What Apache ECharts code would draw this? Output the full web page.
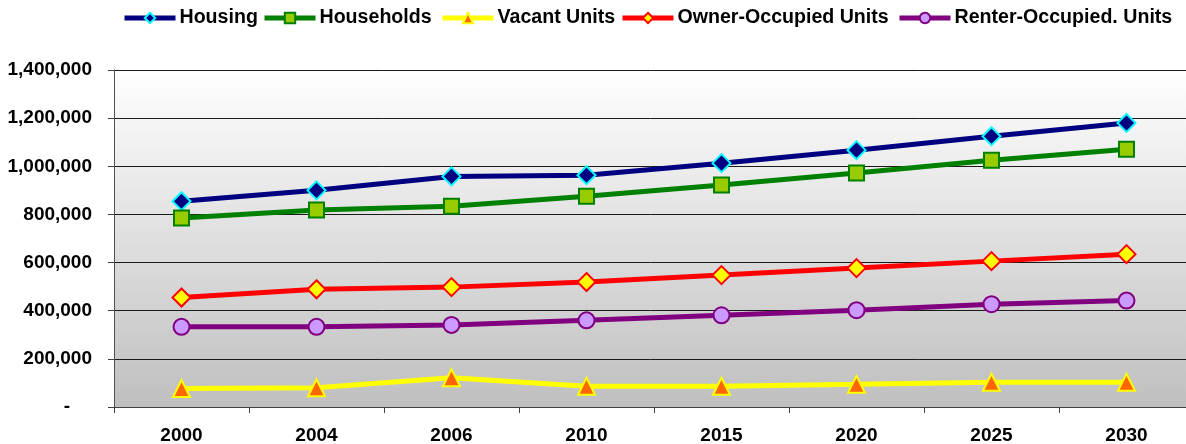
<!DOCTYPE html>
<html>
<head>
<meta charset="utf-8">
<script src="https://cdn.jsdelivr.net/npm/echarts@6/dist/echarts.min.js"></script>
<style>
  html, body { margin: 0; padding: 0; background: #ffffff; }
  #chart { width: 1186px; height: 444px; }
</style>
</head>
<body>
<div id="chart"></div>
<script>
// Housing projections by year
const years = ['2000', '2004', '2006', '2010', '2015', '2020', '2025', '2030'];
const housing = [855000, 900000, 958000, 963000, 1013000, 1067000, 1125000, 1180000];
const households = [785000, 818000, 834000, 876000, 922000, 972000, 1025000, 1071000];
const vacantUnits = [77000, 80000, 122000, 86000, 86000, 94000, 103000, 103000];
const ownerOccupied = [455000, 489000, 498000, 519000, 548000, 577000, 606000, 635000];
const renterOccupied = [333000, 333000, 341000, 360000, 381000, 402000, 427000, 442000];
const yTicks = [0, 200000, 400000, 600000, 800000, 1000000, 1200000, 1400000];
const seriesNames = ['Housing', 'Households', 'Vacant Units', 'Owner-Occupied Units', 'Renter-Occupied. Units'];

const FONT = '"Liberation Sans", Arial, sans-serif';

function lineSeries(name, data, lineColor, symbol, fill, border, size) {
  return {
    name: name,
    type: 'line',
    data: data,
    symbol: symbol,
    symbolSize: size,
    showAllSymbol: true,
    lineStyle: { color: lineColor, width: 5 },
    itemStyle: { color: fill, borderColor: border, borderWidth: 2 },
    emphasis: { disabled: true },
    animation: false,
    z: 3
  };
}

// one legend block per series so each entry sits at its own offset
const legendLefts = [122, 262, 440, 620, 897];
const legends = seriesNames.map(function (name, i) {
  return {
    left: legendLefts[i],
    top: 8,
    itemWidth: 51,
    itemHeight: 13,
    itemGap: 0,
    padding: 0,
    lineStyle: { width: 5 },
    textStyle: { fontFamily: FONT, fontWeight: 'bold', fontSize: 19.6, color: '#000', padding: [0, 0, 0, -1] },
    data: [name]
  };
});

const chart = echarts.init(document.getElementById('chart'));
chart.setOption({
  animation: false,
  legend: legends,
  grid: {
    left: 114,
    top: 70,
    width: 1080,
    height: 337,
    outerBoundsMode: 'none',
    containLabel: false,
    show: true,
    borderWidth: 0,
    backgroundColor: new echarts.graphic.LinearGradient(0, 0, 0, 1, [
      { offset: 0, color: '#ffffff' },
      { offset: 1, color: '#bfbfbf' }
    ])
  },
  xAxis: {
    type: 'category',
    data: years,
    boundaryGap: true,
    axisLine: { lineStyle: { color: '#404040', width: 1 } },
    axisTick: { show: true, length: 6, inside: false, lineStyle: { color: '#404040' } },
    axisLabel: { margin: 19, fontFamily: FONT, fontWeight: 'bold', fontSize: 19, color: '#000' },
    splitLine: { show: false }
  },
  yAxis: {
    type: 'value',
    min: yTicks[0],
    max: yTicks[yTicks.length - 1],
    interval: yTicks[1] - yTicks[0],
    axisLine: { show: true, lineStyle: { color: '#505050', width: 1 } },
    axisTick: { show: true, length: 6, lineStyle: { color: '#404040' } },
    axisLabel: {
      margin: 22,
      fontFamily: FONT, fontWeight: 'bold', fontSize: 19, color: '#000',
      formatter: function (v) {
        return v === 0 ? '{d|-}' : v.toLocaleString('en-US');
      },
      rich: { d: { fontFamily: FONT, fontWeight: 'bold', fontSize: 19, color: '#000', padding: [0, 22, 0, 0] } }
    },
    splitLine: { show: true, lineStyle: { color: '#1a1a1a', width: 1 } }
  },
  series: [
    lineSeries(seriesNames[0], housing, '#000080', 'diamond', '#000080', '#00ffff', 18),
    lineSeries(seriesNames[1], households, '#008000', 'rect', '#99cc00', '#008000', 15),
    lineSeries(seriesNames[2], vacantUnits, '#ffff00', 'triangle', '#ff6600', '#ffff00', 17),
    lineSeries(seriesNames[3], ownerOccupied, '#ff0000', 'diamond', '#ffff00', '#ff0000', 18),
    lineSeries(seriesNames[4], renterOccupied, '#800080', 'circle', '#cc99ff', '#800080', 16)
  ]
});
</script>
</body>
</html>
